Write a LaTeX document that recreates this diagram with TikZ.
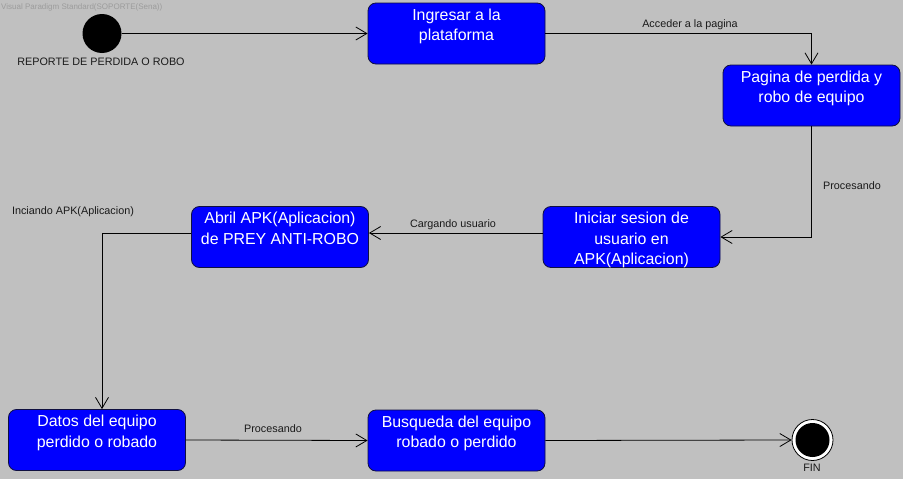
\documentclass[tikz,border=0pt]{standalone}
\usepackage{fontspec}
\setmainfont{Liberation Sans}
\usetikzlibrary{arrows.meta}
\definecolor{bg}{HTML}{C0C0C0}
\definecolor{stateblue}{HTML}{0000FF}
\definecolor{stateedge}{HTML}{101040}
\definecolor{wmark}{HTML}{9C9C9C}
\definecolor{lbl}{HTML}{1A1A1A}
\newcommand\stbody[1]{\parbox[c][61pt][t]{177pt}{\fontsize{15.9}{20.5}\selectfont\centering\rule{0pt}{17pt}#1\par}}
\tikzset{
  statebox/.style={draw=stateedge, line width=0.8pt, fill=stateblue, rounded corners=8pt, inner sep=0pt, text=white},
  flow/.style={line width=0.8pt, draw=black, -{Straight Barb[length=11pt,width=13pt,line width=0.8pt]}},
  lab/.style={text=lbl, font=\fontsize{10.8}{12}\selectfont, inner sep=1pt},
}
\begin{document}
\begin{tikzpicture}[x=1pt,y=-1pt]
\fill[bg] (0,0) rectangle (903,479);
\useasboundingbox (0,0) rectangle (903,479);
\node[text=wmark, font=\fontsize{8}{9}\selectfont, anchor=west, inner sep=0pt] (wm) at (1,7) {Visual Paradigm Standard(SOPORTE(Sena))};

\node[circle, fill=black, minimum size=39pt, inner sep=0pt] (start) at (102,33.5) {};
\node[lab] (startlab) at (101,62) {REPORTE DE PERDIDA O ROBO};

\node[statebox] (ing) at (456.5,33.5) {\stbody{Ingresar a la\\plataforma}};
\node[statebox] (pag) at (811.5,95.5) {\stbody{Pagina de perdida y\\robo de equipo}};
\node[statebox] (ini) at (631.5,237) {\stbody{Iniciar sesion de\\usuario en\\APK(Aplicacion)}};
\node[statebox] (abr) at (280,237) {\stbody{Abril APK(Aplicacion)\\de PREY ANTI-ROBO}};
\node[statebox] (dat) at (97,440) {\stbody{Datos del equipo\\perdido o robado}};
\node[statebox] (bus) at (456.5,440.5) {\stbody{Busqueda del equipo\\robado o perdido}};

\node[circle, draw=black, line width=0.8pt, fill=white, minimum size=41pt, inner sep=0pt] (fin) at (812.5,440) {};
\node[circle, fill=black, minimum size=34pt, inner sep=0pt] (fincore) at (812.5,440) {};
\node[lab] (finlab) at (812,468) {FIN};

\draw[flow] (start) -- (ing.west);
\draw[flow] (ing.east) -| (pag.north);
\draw[flow] (pag.south) |- (ini.east);
\draw[flow] ([yshift=4pt]ini.west) -- ([yshift=4pt]abr.east);
\draw[flow] ([yshift=4pt]abr.west) -| ([xshift=5pt]dat.north);
\draw[flow] (dat.east) -- (bus.west);
\draw[flow] (bus.east) -- (fin.west);

\node[lab] (l1) at (690,25) {Acceder a la pagina};
\node[lab] (l2) at (852,186) {Procesando};
\node[lab] (l3) at (453,225) {Cargando usuario};
\node[lab] (l4) at (73,212) {Inciando APK(Aplicacion)};
\node[lab] (l5) at (273,429) {Procesando};
\end{tikzpicture}
\end{document}
